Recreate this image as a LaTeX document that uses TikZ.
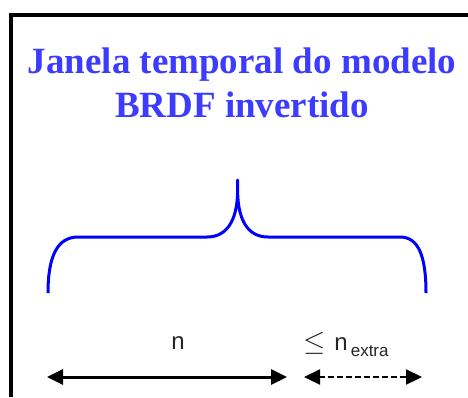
\documentclass[tikz,border=0pt]{standalone}
\usepackage{fontspec}
\setmainfont{Liberation Serif}
\setsansfont{Liberation Sans}
\usetikzlibrary{arrows.meta}
\definecolor{titleblue}{RGB}{60,60,255}
\definecolor{braceblue}{RGB}{0,0,255}
\tikzset{
  titletext/.style={text=titleblue, font=\fontsize{37}{44}\selectfont\bfseries, inner sep=0pt},
  labeltext/.style={font=\sffamily\fontsize{24}{26}\selectfont, text=black!85, inner sep=0pt},
  frameline/.style={line width=3.5pt, black, line join=miter},
  bracestyle/.style={line width=3pt, braceblue, line join=round},
  spanarrow/.style={line width=3pt, black, {Triangle[length=16pt,width=15pt]}-{Triangle[length=16pt,width=15pt]}},
  extraarrow/.style={line width=2.2pt, black, dash pattern=on 6pt off 3pt, {Triangle[length=16pt,width=15pt]}-{Triangle[length=16pt,width=15pt]}}
}
\begin{document}
\begin{tikzpicture}[x=1pt,y=-1pt]
\useasboundingbox (0,0) rectangle (468,397);
% frame
\draw[frameline] (10.8,397) -- (10.8,15) -- (468,15);
% title
\node[titletext, anchor=base] (title1) at (242,73.5) {Janela temporal do modelo};
\node[titletext, anchor=base] (title2) at (242,117.5) {BRDF invertido};
% brace
\draw[bracestyle] (48,293) .. controls (48,255) and (58,237) .. (78,237)
  -- (207,237) .. controls (226,237) and (237,222) .. (237.6,192) -- (237.6,180)
  -- (237.6,192) .. controls (238.2,222) and (249,237) .. (268,237)
  -- (400,237) .. controls (418,237) and (426,255) .. (426,293);
% labels
\node[labeltext, anchor=base] (nlabel) at (178,349) {n};
\node[labeltext, anchor=base west] (nextra) at (303,350)
  {\scalebox{1.15}{\(\leq\)}\hspace{9pt}n\hspace{3pt}\raisebox{-6pt}{\fontsize{17}{17}\selectfont extra}};
% arrows
\coordinate (a1) at (47,377);
\coordinate (a2) at (287,377);
\coordinate (b1) at (304,377);
\coordinate (b2) at (422,377);
\draw[spanarrow] (a1) -- (a2);
\draw[extraarrow] (b1) -- (b2);
\end{tikzpicture}
\end{document}
